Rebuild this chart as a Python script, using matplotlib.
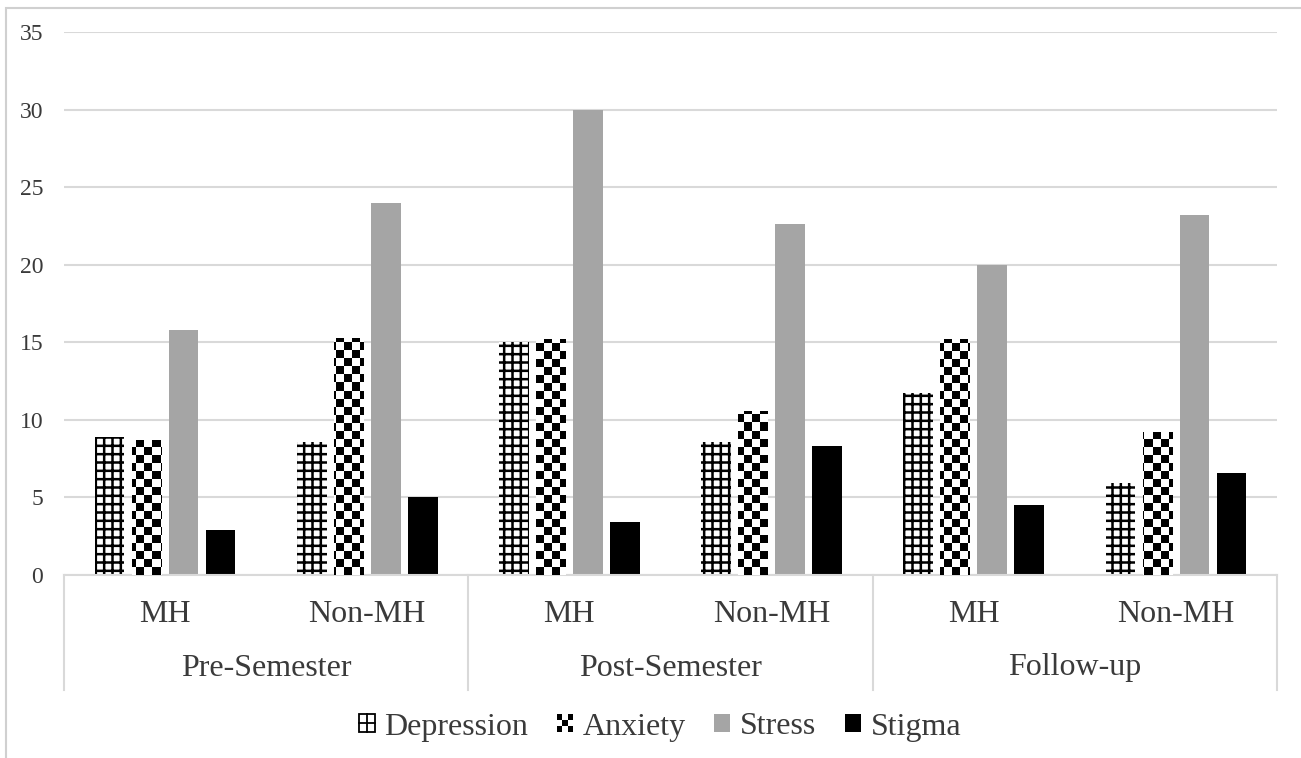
import numpy as np
import matplotlib
matplotlib.use('Agg')
import matplotlib.pyplot as plt
from matplotlib.patches import Patch, Rectangle
from matplotlib.lines import Line2D
from matplotlib.legend_handler import HandlerBase
import matplotlib.transforms as mtransforms

groups = ['Pre-Semester', 'Post-Semester', 'Follow-up']
subgroups = ['MH', 'Non-MH']
series_names = ['Depression', 'Anxiety', 'Stress', 'Stigma']
depression = [8.9, 8.6, 15.0, 8.6, 11.7, 5.9]
anxiety = [8.7, 15.3, 15.2, 10.6, 15.2, 9.2]
stress = [15.8, 24.0, 30.0, 22.6, 20.0, 23.2]
stigma = [2.9, 5.0, 3.4, 8.3, 4.5, 6.6]
yticks = [0, 5, 10, 15, 20, 25, 30, 35]

plt.rcParams['font.family'] = ['Liberation Serif', 'DejaVu Serif']
plt.rcParams['hatch.linewidth'] = 1.8

TXT = '#3a3a3a'
GRID = '#d9d9d9'

W, H = 1301, 758
fig = plt.figure(figsize=(W / 100, H / 100), dpi=100)
ax_left, ax_right, ax_top, ax_bot = 64, 1277, 32, 575
ax = fig.add_axes([ax_left / W, 1 - ax_bot / H, (ax_right - ax_left) / W, (ax_bot - ax_top) / H])

# outer chart border
fig.patches.append(Rectangle((6 / W, -0.02), 1.05, 1 - 8 / H + 0.02, transform=fig.transFigure,
                             fill=False, edgecolor='#d0d0d0', linewidth=1.5))

n = len(depression)
x = np.arange(n)
bw = 0.147
step = 0.183
offsets = (np.arange(4) - 1.5) * step

xlim = (-0.5, n - 0.5)
ylim = (0, 35)

ax.bar(x + offsets[0], depression, bw, facecolor='white', edgecolor='black',
       linewidth=0, hatch='++', zorder=2)
bars_anx = ax.bar(x + offsets[1], anxiety, bw, facecolor='white', linewidth=0, zorder=2)
ax.bar(x + offsets[2], stress, bw, color='#a5a5a5', linewidth=0, zorder=2)
ax.bar(x + offsets[3], stigma, bw, color='black', linewidth=0, zorder=2)

# checkerboard texture for the anxiety bars
pw, ph = ax_right - ax_left, ax_bot - ax_top
yy, xx = np.mgrid[0:ph, 0:pw]
cell = 8
checker = ((xx // cell + yy // cell) % 2).astype(float)
for b in bars_anx:
    im = ax.imshow(checker, extent=(xlim[0], xlim[1], ylim[0], ylim[1]), origin='lower',
                   cmap='gray_r', vmin=0, vmax=1, interpolation='nearest', aspect='auto', zorder=3)
    im.set_clip_path(b)

ax.set_xlim(*xlim)
ax.set_ylim(*ylim)
ax.set_yticks(yticks)
ax.yaxis.grid(True, color=GRID, linewidth=1.5)
ax.set_axisbelow(True)
for s in ['left', 'right', 'top']:
    ax.spines[s].set_visible(False)
ax.spines['bottom'].set_color(GRID)
ax.spines['bottom'].set_linewidth(1.5)
ax.tick_params(axis='y', length=0, pad=15, labelsize=17, labelcolor=TXT)
ax.tick_params(axis='x', length=0)
ax.set_xticks([])

# hierarchical category axis
trans = mtransforms.blended_transform_factory(ax.transData, ax.transAxes)
h_px = ax_bot - ax_top
for i in range(n):
    ax.text(x[i], (ax_bot - 615) / h_px, subgroups[i % 2], transform=trans, ha='center',
            va='center', fontsize=23, color=TXT)
for g, name in enumerate(groups):
    ax.text(2 * g + 0.5, (ax_bot - 668) / h_px, name, transform=trans, ha='center',
            va='center', fontsize=23, color=TXT)
for k in range(len(groups) + 1):
    ax.plot([2 * k - 0.5, 2 * k - 0.5], [0, (ax_bot - 690) / h_px], transform=trans,
            color=GRID, linewidth=1.5, clip_on=False)


class HandlerChecker(HandlerBase):
    def create_artists(self, legend, orig_handle, xdescent, ydescent, width, height, fontsize, trans):
        arts = []
        c = 3
        cw, ch = width / c, height / c
        for i in range(c):
            for j in range(c):
                if (i + j) % 2 == 0:
                    arts.append(Rectangle((-xdescent + i * cw, -ydescent + j * ch), cw, ch,
                                          facecolor='black', edgecolor='none', transform=trans))
        return arts


class HandlerGrid(HandlerBase):
    def create_artists(self, legend, orig_handle, xdescent, ydescent, width, height, fontsize, trans):
        x0, y0 = -xdescent, -ydescent
        box = Rectangle((x0, y0), width, height, facecolor='white', edgecolor='black',
                        linewidth=1.3, transform=trans)
        v = Line2D([x0 + width / 2] * 2, [y0, y0 + height], color='black', linewidth=1.3,
                   transform=trans)
        hl = Line2D([x0, x0 + width], [y0 + height / 2] * 2, color='black', linewidth=1.3,
                    transform=trans)
        return [box, v, hl]


h_dep = Patch(facecolor='white', edgecolor='black')
h_anx = Patch(facecolor='white')
h_str = Patch(facecolor='#a5a5a5')
h_stg = Patch(facecolor='black')
fig.legend([h_dep, h_anx, h_str, h_stg], series_names, loc='center',
           bbox_to_anchor=(660 / W, 1 - 727 / H), ncol=4, frameon=False, fontsize=23,
           handlelength=0.5, handleheight=0.5, handletextpad=0.3, columnspacing=0.9,
           labelcolor=TXT, handler_map={h_anx: HandlerChecker(), h_dep: HandlerGrid()})

fig.savefig('out.png', dpi=100)
